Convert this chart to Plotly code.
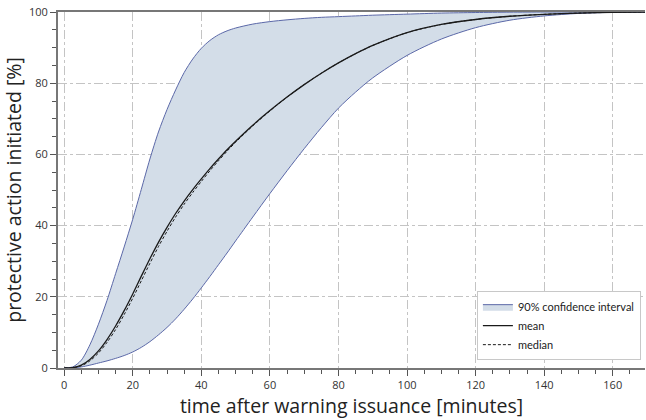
import plotly.graph_objects as go

time_min = [0, 2.5, 5, 7.5, 10, 12.5, 15, 17.5, 20, 22.5, 25, 27.5, 30, 32.5, 35, 37.5,
            40, 42.5, 45, 47.5, 50, 55, 60, 65, 70, 75, 80, 85, 90, 100, 110, 120, 130, 140, 150, 160, 170]

upper = [0, 0.3, 2.2, 6.5, 12.3, 19, 26.5, 34, 41.8, 50.2, 58.7, 66.3, 72.6, 78.1, 83.0, 86.8,
         89.8, 92.0, 93.6, 94.7, 95.5, 96.6, 97.3, 97.8, 98.2, 98.5, 98.7, 98.9, 99.1, 99.4, 99.7, 99.85, 99.95, 100, 100, 100, 100]

lower = [0, 0.05, 0.3, 0.8, 1.4, 2.0, 2.7, 3.5, 4.5, 5.8, 7.4, 9.3, 11.4, 13.8, 16.5, 19.4,
         22.5, 25.7, 29.0, 32.3, 35.7, 42.4, 49.0, 55.4, 61.6, 67.5, 73, 77.5, 81.5, 87.8, 92.4, 95.6, 97.7, 98.9, 99.6, 99.9, 100]

mean = [0, 0.1, 0.8, 2.4, 4.8, 8.0, 11.8, 16.1, 20.8, 25.8, 30.7, 35.3, 39.5, 43.4, 46.9, 50.1,
        53.1, 56.0, 58.7, 61.3, 63.7, 68.2, 72.3, 76.1, 79.6, 82.8, 85.7, 88.3, 90.6, 94.2, 96.5, 97.9, 98.8, 99.35, 99.7, 99.9, 100]

median = [0, 0.1, 0.6, 2.0, 4.2, 7.2, 10.8, 15.0, 19.6, 24.5, 29.4, 34.1, 38.4, 42.4, 46.0, 49.3,
          52.4, 55.4, 58.2, 60.9, 63.4, 68.0, 72.2, 76.1, 79.6, 82.8, 85.7, 88.3, 90.6, 94.2, 96.5, 97.9, 98.8, 99.35, 99.7, 99.9, 100]

x_ticks = [0, 20, 40, 60, 80, 100, 120, 140, 160]
y_ticks = [0, 20, 40, 60, 80, 100]

band_line = "#5b68a8"
band_fill = "rgba(211,221,232,1)"

fig = go.Figure()
fig.add_trace(go.Scatter(x=time_min, y=lower, mode="lines", line=dict(color=band_line, width=1, shape="spline", smoothing=0.8),
                         showlegend=False, hoverinfo="skip"))
fig.add_trace(go.Scatter(x=time_min, y=upper, mode="lines", line=dict(color=band_line, width=1, shape="spline", smoothing=0.8),
                         fill="tonexty", fillcolor=band_fill, name="90% confidence interval"))
fig.add_trace(go.Scatter(x=time_min, y=mean, mode="lines", line=dict(color="#1a1a1a", width=1.3, shape="spline", smoothing=0.8),
                         name="mean"))
fig.add_trace(go.Scatter(x=time_min, y=median, mode="lines",
                         line=dict(color="#1a1a1a", width=1, dash="3px,2px", shape="spline", smoothing=0.8), name="median"))

grid = dict(showgrid=True, gridcolor="#c4c4c4", gridwidth=1, griddash="dashdot")
fig.update_layout(
    width=646, height=420,
    margin=dict(l=58, r=1, t=12, b=52, autoexpand=False),
    paper_bgcolor="white", plot_bgcolor="white",
    font=dict(family="Open Sans, DejaVu Sans, sans-serif", color="#222"),
    xaxis=dict(range=[-1.8, 169.4], tickvals=x_ticks, ticks="outside", ticklen=6, tickcolor="#555",
               showline=True, linecolor="#777", linewidth=2, mirror=True, zeroline=False, automargin=False,
               minor=dict(dtick=5, ticks="outside", ticklen=4, tickcolor="#555", showgrid=False),
               tickfont=dict(size=11, color="#333"),
               title=dict(text="time after warning issuance [minutes]", font=dict(size=19.5, color="#222"), standoff=4),
               **grid),
    yaxis=dict(range=[0, 100], tickvals=y_ticks, ticks="outside", ticklen=6, tickcolor="#555",
               showline=True, linecolor="#777", linewidth=2, zeroline=False, automargin=False,
               ticklabeloverflow="allow",
               minor=dict(dtick=5, ticks="outside", ticklen=4, tickcolor="#555", showgrid=False),
               tickfont=dict(size=11, color="#333"),
               title=dict(text="protective action initiated [%]", font=dict(size=19.5, color="#222"), standoff=2),
               **grid),
    legend=dict(x=0.993, y=0.022, xanchor="right", yanchor="bottom", bgcolor="white",
                bordercolor="#c8c8c8", borderwidth=1, font=dict(size=11, color="#222", family="Lato, Open Sans, sans-serif"),
                tracegroupgap=0, itemwidth=30, traceorder="normal"),
)
fig.write_html("out.html", config={"displayModeBar": False},
               post_script="document.body.style.margin='0';document.body.style.overflow='hidden';")
